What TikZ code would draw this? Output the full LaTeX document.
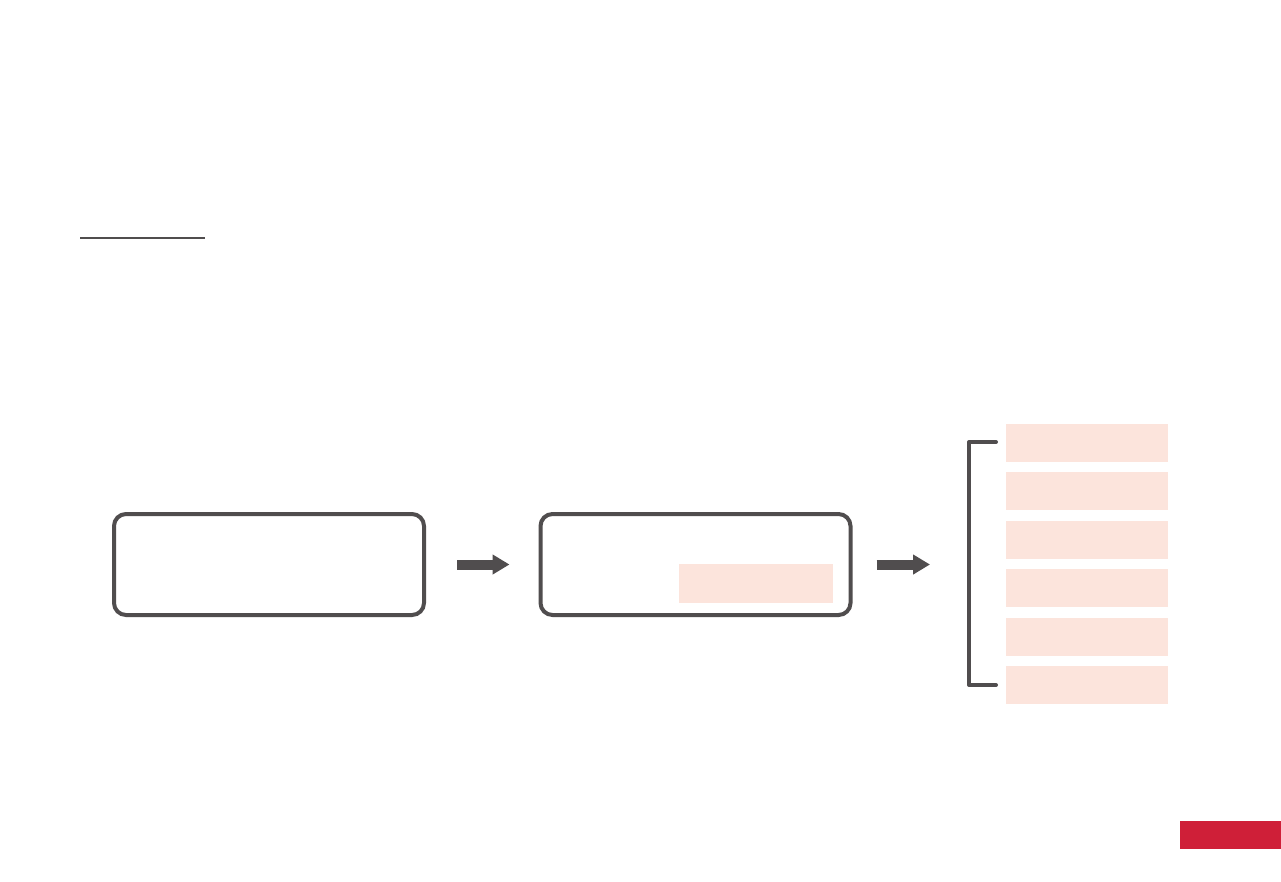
\documentclass[tikz,border=0pt]{standalone}
\usepackage{tikz}
\usetikzlibrary{arrows.meta, positioning}
\definecolor{darkgrey}{HTML}{504D4E}
\definecolor{lightpink}{HTML}{FCE4DC}
\definecolor{brandred}{HTML}{CF1F38}

\begin{document}
\begin{tikzpicture}[x=1pt, y=-1pt,
    stagebox/.style={draw=darkgrey, line width=4pt, rounded corners=12pt,
        minimum width=310pt, minimum height=101pt},
    pinkbox/.style={fill=lightpink, inner sep=0pt,
        minimum width=162pt, minimum height=38pt},
    flow/.style={draw=darkgrey, line width=10pt,
        -{Triangle[length=17pt, width=19pt]}}]
    \fill[white] (0,0) rectangle (1281,881);
    \useasboundingbox (0,0) rectangle (1281,881);

    % title underline
    \draw[darkgrey, line width=1.3pt] (80,238) -- (205,238);

    \node[stagebox] (box1) at (269,564.5) {};
    \node[stagebox] (box2) at (695.5,564.5) {};
    \node[pinkbox, minimum width=154pt, minimum height=39pt] (tag) at (756,583.5) {};

    % list on the right
    \foreach \i in {0,...,5}
        \node[pinkbox] (item\i) at (1087,{443+\i*48.4}) {};
    \coordinate (brk) at (969,564.5);
    \draw[darkgrey, line width=4pt, line cap=round, line join=round]
        (996,442) -- (969,442) -- (969,685) -- (996,685);

    \draw[flow, shorten <=31pt, shorten >=29pt] (box1.east) -- (box2.west);
    \draw[flow, shorten <=24pt, shorten >=39pt] (box2.east) -- (brk);

    \fill[brandred] (1180,821) rectangle (1281,849);
\end{tikzpicture}
\end{document}
